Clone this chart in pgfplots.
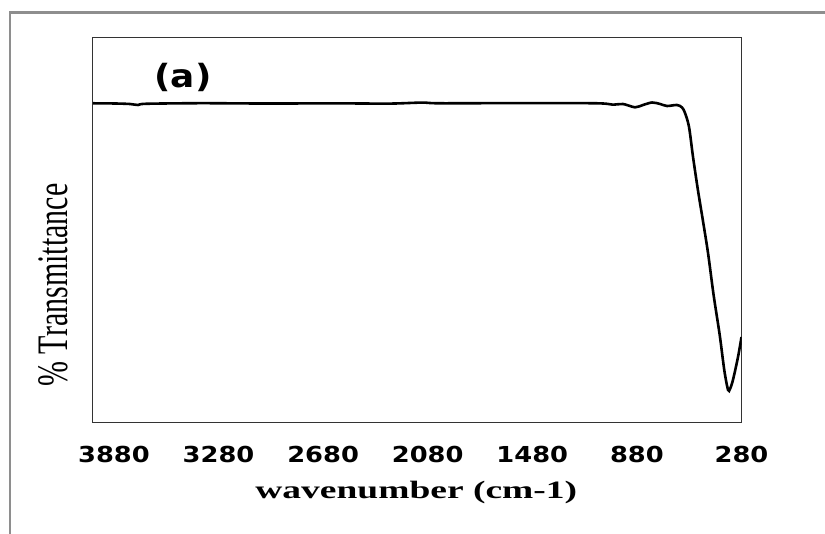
\documentclass[border=0pt]{standalone}
\usepackage{fontspec}
\usepackage{pgfplots}
\pgfplotsset{compat=1.18}
\usepackage{graphicx}
\newfontfamily\vfont{DejaVu Sans}
\newfontfamily\tfont{Liberation Serif}
\definecolor{framegray}{HTML}{8E8E8E}
\begin{document}
\begin{tikzpicture}[x=1pt,y=1pt]
\path[use as bounding box] (0,0) rectangle (825,534);
\draw[framegray, line width=2.6pt] (10,0) -- (10,521.5) -- (825,521.5);
\begin{axis}[
  at={(93pt,111pt)}, anchor=south west,
  width=648.5pt, height=385pt, scale only axis,
  xmin=280, xmax=4000, x dir=reverse,
  ymin=0, ymax=385,
  xtick={280,880,1480,2080,2680,3280,3880},
  ytick=\empty,
  major tick length=0pt,
  axis line style={draw=black!80, line width=1pt},
  xticklabel style={anchor=base, yshift=-40pt, font=\vfont\bfseries\fontsize{22}{24}\selectfont},
  xticklabel={\scalebox{1.17}[1]{\pgfmathprintnumber[set thousands separator={},assume math mode=true]{\tick}}},
  xlabel={\scalebox{1.5}[1]{wavenumber (cm-1)}},
  xlabel style={at={(axis description cs:0.4985,0)}, anchor=base, yshift=-75.5pt, font=\tfont\bfseries\fontsize{25}{28}\selectfont},
  ylabel={\scalebox{1}[1.45]{\% Transmittance}},
  ylabel style={at={(axis description cs:-0.0617,0.358)}, anchor=center, font=\tfont\fontsize{30}{34}\selectfont},
]
\addplot[black, line width=2.6pt, smooth, tension=0.5] coordinates {
(4000,319.7) (3874,319.5) (3788,319.0) (3742,318.0) (3696,319.2) (3386,319.8)
(3042,319.5) (2583,319.6) (2296,319.4) (2113,320.4) (2009,319.7) (1551,319.9)
(1109,319.7) (1017,318.3) (960,319.0) (891,315.7) (845,318.0) (793,320.5)
(747,319.0) (707,317.0) (650,318.0) (621,315.5) (604,310) (581,296)
(558,266) (530,233) (501,202) (472,170) (440,128) (405,88) (378,52)
(357,33) (346,34) (329,43) (300,66) (280,86)
};
\node[font=\vfont\bfseries\fontsize{32}{36}\selectfont] at (rel axis cs:0.1388,0.897) {\scalebox{1.12}[1]{(a)}};
\end{axis}
\end{tikzpicture}
\end{document}
